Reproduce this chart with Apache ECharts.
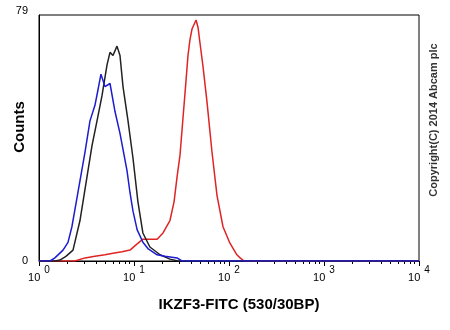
<!DOCTYPE html>
<html>
<head>
<meta charset="utf-8">
<script src="https://cdn.jsdelivr.net/npm/echarts@6/dist/echarts.min.js"></script>
<style>html,body{margin:0;padding:0;background:#fff}#c{width:450px;height:330px}</style>
</head>
<body>
<div id="c"></div>
<script>
// Fluorescence intensity (x, log scale) and counts (y)
const blackX = [1, 1.47, 1.66, 1.92, 2.28, 2.7, 3.2, 3.61, 4.08, 4.6, 5.2, 5.59, 6.01, 6.62, 7.12, 7.66, 8.65, 9.76, 11.0, 12.4, 14.7, 18.8, 23.9, 29.0, 10000];
const blackY = [0, 0, 0.3, 1.5, 3.5, 13, 27, 37, 45, 53, 63, 67, 66, 69, 66, 56, 45, 33, 19, 9, 4.5, 2, 0.6, 0, 0];

const blueX = [1, 1.31, 1.47, 1.79, 2.02, 2.22, 2.57, 3.05, 3.44, 3.88, 4.18, 4.49, 4.95, 5.59, 6.31, 7.12, 8.44, 9.07, 9.76, 10.8, 11.6, 12.4, 14.0, 17.5, 21.2, 28.4, 32.0, 10000];
const blueY = [0, 0, 1, 3.5, 6, 11, 22, 35, 45, 50, 55, 60, 56, 57, 48, 41, 29, 22, 16, 10, 8, 6, 4, 2, 1.5, 1, 0, 0];

const redX = [1, 2.39, 3.05, 3.88, 4.95, 6.01, 7.48, 9.07, 10.8, 12.4, 14.7, 17.5, 20.2, 23.9, 26.4, 28.4, 30.5, 32.8, 35.3, 37.0, 38.8, 40.8, 45.0, 47.2, 49.5, 53.2, 58.7, 66.2, 74.8, 86.5, 102, 121, 131, 144, 10000];
const redY = [0, 0, 1, 1.5, 2, 2.5, 3, 3.5, 5.5, 7, 7, 7, 9, 13, 19, 27, 34, 46, 58, 66, 71, 74.5, 77.4, 75, 70, 62.6, 51, 35, 21, 11, 5.8, 2, 1, 0, 0];

const majorTicks = [1, 10, 100, 1000, 10000];
const minorTicks = [2,3,4,5,6,7,8,9,20,30,40,50,60,70,80,90,200,300,400,500,600,700,800,900,2000,3000,4000,5000,6000,7000,8000,9000];
const yTicks = [0, 79];

const zip = (xs, ys) => xs.map((x, i) => [x, ys[i]]);
const FONT = '"Liberation Sans", Arial, sans-serif';

const chart = echarts.init(document.getElementById('c'), null, {renderer: 'canvas'});
chart.setOption({
  animation: false,
  backgroundColor: '#fff',
  grid: {left: 39, right: 31, top: 15, bottom: 69, show: true, borderColor: '#000', borderWidth: 1, backgroundColor: 'transparent'},
  xAxis: [
    {
      type: 'log', logBase: 10, min: 1, max: 10000, position: 'bottom',
      axisLine: {show: true, lineStyle: {color: '#000', width: 1}},
      axisTick: {show: true, customValues: majorTicks, length: 5, lineStyle: {color: '#000'}},
      axisLabel: {
        show: true, customValues: majorTicks, margin: 3,
        formatter: v => '{a|10}{b|' + Math.round(Math.log10(v)) + '}',
        rich: {
          a: {fontFamily: FONT, fontSize: 11, color: '#000', padding: [8, 0, 0, 0]},
          b: {fontFamily: FONT, fontSize: 10, color: '#000', padding: [0, 0, 6, 4]}
        }
      },
      splitLine: {show: false}
    },
    {
      type: 'log', logBase: 10, min: 1, max: 10000, position: 'bottom', gridIndex: 0,
      axisLine: {show: false},
      axisTick: {show: true, customValues: minorTicks, length: 3, lineStyle: {color: '#000'}},
      axisLabel: {show: false},
      splitLine: {show: false}
    }
  ],
  yAxis: {
    type: 'value', min: 0, max: 79, interval: 79,
    axisLine: {show: true, lineStyle: {color: '#000'}},
    axisTick: {show: false},
    splitLine: {show: false},
    axisLabel: {
      margin: 11, fontFamily: FONT, fontSize: 11, color: '#000',
      formatter: v => v === 79 ? '{t|79}' : '0',
      rich: {t: {fontFamily: FONT, fontSize: 11, color: '#000', padding: [0, 0, 8, 0]}}
    }
  },
  series: [
    {type: 'line', name: 'red', data: zip(redX, redY), showSymbol: false, lineStyle: {color: '#e02424', width: 1.5}, itemStyle: {color: '#e02424'}},
    {type: 'line', name: 'black', data: zip(blackX, blackY), showSymbol: false, lineStyle: {color: '#222222', width: 1.5}, itemStyle: {color: '#222222'}},
    {type: 'line', name: 'blue', data: zip(blueX, blueY), showSymbol: false, lineStyle: {color: '#1c1cd0', width: 1.5}, itemStyle: {color: '#1c1cd0'}}
  ],
  graphic: [
    {type: 'text', x: 20, y: 127, rotation: Math.PI / 2, style: {text: 'Counts', fontFamily: FONT, fontSize: 15, fontWeight: 'bold', fill: '#000', align: 'center', verticalAlign: 'middle'}},
    {type: 'text', x: 239, y: 305, style: {text: 'IKZF3-FITC (530/30BP)', fontFamily: FONT, fontSize: 15, fontWeight: 'bold', fill: '#000', align: 'center', verticalAlign: 'middle'}},
    {type: 'text', x: 434, y: 120, rotation: Math.PI / 2, style: {text: 'Copyright(C) 2014 Abcam plc', fontFamily: FONT, fontSize: 11, fontWeight: 'bold', fill: '#333', align: 'center', verticalAlign: 'middle'}}
  ]
});
</script>
</body>
</html>
